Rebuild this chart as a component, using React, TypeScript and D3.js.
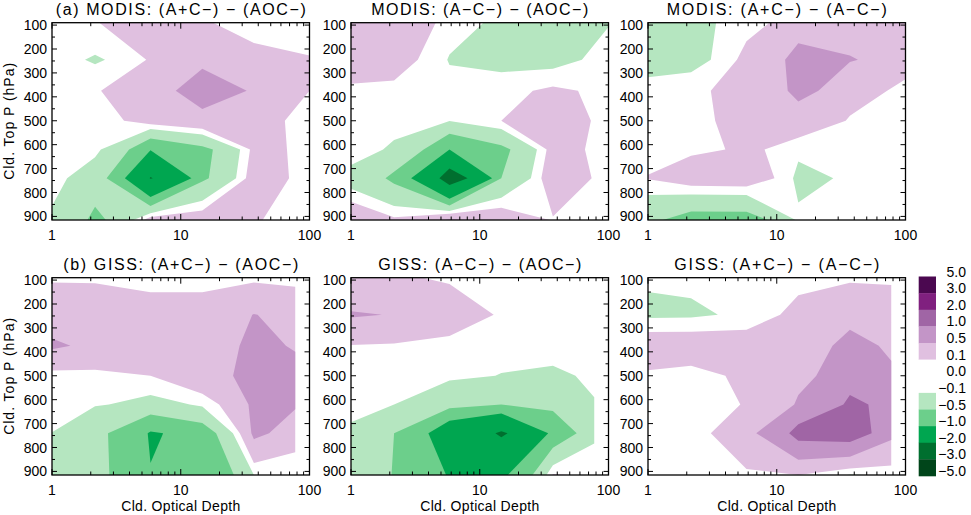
import React from 'react';
import * as d3 from 'd3';

// ---------- grid coordinates (bin centres) ----------
const tauModis = [0.62, 2.16, 5.82, 14.7, 37, 100];
const tauGiss = [0.62, 2.16, 5.82, 14.7, 37, 77.5];
const pressureRows = [90, 245, 375, 500, 620, 740, 915];

// ---------- contour levels & colours ----------
const levels = [0.1, 0.5, 1, 2, 3];
const purpleFills = ['#e0c0e0', '#c395c7', '#a065a5', '#80207f', '#4b0850'];
const greenFills = ['#b5e6c0', '#6ccf8b', '#00a650', '#006f2f', '#00451a'];
const legendLabels = ['5.0', '3.0', '2.0', '1.0', '0.5', '0.1', '0.0', '\u22120.1', '\u22120.5', '\u22121.0', '\u22122.0', '\u22123.0', '\u22125.0'];

// ---------- tick values ----------
const xMajorTicks = [1, 10, 100];
const xMinorTicks = [2, 3, 4, 5, 6, 7, 8, 9, 20, 30, 40, 50, 60, 70, 80, 90];
const yMajorTicks = [100, 200, 300, 400, 500, 600, 700, 800, 900];
const yMinorTicks = [150, 250, 350, 450, 550, 650, 750, 850];

// ---------- data: rows = pressure (top->bottom), cols = optical depth ----------
const modisApCvsAOC = [
  [-0.05, 0.09, 0.3, 0.12, -0.02, -0.05],
  [0.0, -0.13, 0.13, 0.42, 0.2, 0.12],
  [0.0, 0.08, 0.38, 0.7, 0.45, 0.1],
  [0.0, 0.0, 0.25, 0.37, 0.2, -0.03],
  [0.0, -0.04, -0.97, -0.61, 0.19, 0.0],
  [0.03, -0.26, -2.04, -0.57, 0.29, -0.08],
  [0.0, -0.61, 0.27, 0.3, 0.12, -0.08],
];
const modisAmCvsAOC = [
  [0.3, 0.25, 0.02, -0.2, -0.2, -0.12],
  [0.35, 0.2, -0.12, -0.2, -0.2, 0.05],
  [0.05, 0.05, 0.0, 0.05, 0.15, 0.0],
  [0.0, 0.0, -0.09, 0.1, 0.3, -0.05],
  [0.05, -0.15, -1.0, -0.6, 0.25, -0.08],
  [-0.1, -0.6, -2.5, -0.5, 0.37, -0.09],
  [0.5, 0.15, 0.55, 0.35, 0.075, 0.0],
];
const modisApCvsAmC = [
  [-0.3, -0.15, 0.0, 0.3, 0.35, 0.3],
  [-0.4, -0.2, 0.2, 0.66, 0.52, 0.3],
  [0.05, 0.05, 0.25, 0.6, 0.25, -0.02],
  [0.0, 0.03, 0.25, 0.32, 0.07, 0.0],
  [0.0, 0.05, 0.15, -0.05, 0.0, 0.0],
  [0.065, 0.28, 0.3, -0.17, -0.048, 0.0],
  [-0.34, -0.7, -0.7, -0.05, -0.05, 0.0],
];
const gissApCvsAOC = [
  [0.065, 0.065, -0.03, -0.03, 0.04, 0.02],
  [0.35, 0.3, 0.3, 0.3, 0.51, 0.35],
  [0.7, 0.3, 0.3, 0.3, 0.62, 0.45],
  [-0.02, 0.05, 0.1, 0.35, 0.66, 0.7],
  [0.0, -0.08, -0.2, -0.05, 0.6, 0.55],
  [-0.01, -0.4, -1.05, -0.75, 0.6, 0.25],
  [-0.25, -0.4, -0.98, -0.9, -0.1, -0.08],
];
const gissAmCvsAOC = [
  [0.12, 0.12, 0.07, 0.0, 0.0, 0.0],
  [0.58, 0.47, 0.25, 0.06, 0.0, 0.0],
  [0.1, 0.07, 0.03, 0.0, 0.0, 0.0],
  [0.0, 0.0, -0.05, -0.11, -0.15, -0.04],
  [0.0, -0.1, -0.35, -0.5, -0.4, -0.12],
  [-0.1, -0.5, -1.5, -2.1, -0.83, -0.15],
  [-0.2, -0.52, -1.05, -1.1, 0.12, 0.05],
];
const gissApCvsAmC = [
  [-0.08, -0.05, 0.0, 0.0, 0.06, 0.05],
  [-0.15, -0.14, -0.03, 0.21, 0.35, 0.3],
  [0.3, 0.3, 0.24, 0.3, 0.66, 0.4],
  [0.08, 0.0, 0.2, 0.4, 0.8, 0.6],
  [0.0, 0.0, 0.12, 0.55, 1.1, 0.82],
  [0.0, 0.0, 0.4, 1.2, 1.3, 0.61],
  [0.0, 0.0, 0.05, 0.1, -0.12, -0.05],
];

// ---------- layout ----------
const colX = [52, 351, 648];
const rowY = [22.7, 277.7];
const plotW = 257.5;
const plotH = 197.3;
const FONT = 'Liberation Sans, Arial, Helvetica, sans-serif';

const panels = [
  { title: '(a) MODIS: (A+C\u2212) \u2212 (AOC\u2212)', tl: 250, data: modisApCvsAOC, taus: tauModis, col: 0, row: 0 },
  { title: 'MODIS: (A\u2212C\u2212) \u2212 (AOC\u2212)', tl: 217, data: modisAmCvsAOC, taus: tauModis, col: 1, row: 0 },
  { title: 'MODIS: (A+C\u2212) \u2212 (A\u2212C\u2212)', tl: 220, data: modisApCvsAmC, taus: tauModis, col: 2, row: 0 },
  { title: '(b) GISS: (A+C\u2212) \u2212 (AOC\u2212)', tl: 235, data: gissApCvsAOC, taus: tauGiss, col: 0, row: 1 },
  { title: 'GISS: (A\u2212C\u2212) \u2212 (AOC\u2212)', tl: 203, data: gissAmCvsAOC, taus: tauGiss, col: 1, row: 1 },
  { title: 'GISS: (A+C\u2212) \u2212 (A\u2212C\u2212)', tl: 205, data: gissApCvsAmC, taus: tauGiss, col: 2, row: 1 },
];

function interp(arr: number[], g: number) {
  const t = Math.max(0, Math.min(arr.length - 1, g - 0.5));
  const i = Math.min(arr.length - 2, Math.floor(t));
  const f = t - i;
  return arr[i] + f * (arr[i + 1] - arr[i]);
}

function Panel({ p, idx }: { p: any; idx: number }) {
  const x0 = colX[p.col];
  const y0 = rowY[p.row];
  const xs = d3.scaleLog().domain([1, 100]).range([x0, x0 + plotW]);
  const ys = d3.scaleLinear().domain([90, 915]).range([y0, y0 + plotH]);
  const nx = p.taus.length;
  const ny = pressureRows.length;
  const flat: number[] = p.data.flat();
  const gen = d3.contours().size([nx, ny]).thresholds(levels);
  const pos = gen(flat);
  const neg = gen(flat.map((v: number) => -v));
  const proj = (pt: number[]) => [xs(interp(p.taus, pt[0])), ys(interp(pressureRows, pt[1]))];
  const toPath = (mp: any) =>
    mp.coordinates
      .map((poly: any) =>
        poly
          .map((ring: any) => 'M' + ring.map((pt: number[]) => proj(pt).map((v) => v.toFixed(2)).join(',')).join('L') + 'Z')
          .join('')
      )
      .join('');
  const clipId = `clip${idx}`;
  const bottom = y0 + plotH;
  const right = x0 + plotW;
  return (
    <g>
      <defs>
        <clipPath id={clipId}>
          <rect x={x0} y={y0} width={plotW} height={plotH} />
        </clipPath>
      </defs>
      <g clipPath={`url(#${clipId})`}>
        {pos.map((c: any, i: number) => (
          <path key={'p' + i} d={toPath(c)} fill={purpleFills[i]} fillRule="evenodd" stroke="none" />
        ))}
        {neg.map((c: any, i: number) => (
          <path key={'n' + i} d={toPath(c)} fill={greenFills[i]} fillRule="evenodd" stroke="none" />
        ))}
      </g>
      {xMajorTicks.map((t) => (
        <g key={'xM' + t}>
          <line x1={xs(t)} x2={xs(t)} y1={bottom} y2={bottom - 6} stroke="#000" strokeWidth={1} />
          <line x1={xs(t)} x2={xs(t)} y1={y0} y2={y0 + 6} stroke="#000" strokeWidth={1} />
        </g>
      ))}
      {xMinorTicks.map((t) => (
        <g key={'xm' + t}>
          <line x1={xs(t)} x2={xs(t)} y1={bottom} y2={bottom - 3.5} stroke="#000" strokeWidth={1} />
          <line x1={xs(t)} x2={xs(t)} y1={y0} y2={y0 + 3.5} stroke="#000" strokeWidth={1} />
        </g>
      ))}
      {yMajorTicks.map((t) => (
        <g key={'yM' + t}>
          <line x1={x0} x2={x0 + 5} y1={ys(t)} y2={ys(t)} stroke="#000" strokeWidth={1} />
          <line x1={right} x2={right - 5} y1={ys(t)} y2={ys(t)} stroke="#000" strokeWidth={1} />
        </g>
      ))}
      {yMinorTicks.map((t) => (
        <g key={'ym' + t}>
          <line x1={x0} x2={x0 + 3} y1={ys(t)} y2={ys(t)} stroke="#000" strokeWidth={1} />
          <line x1={right} x2={right - 3} y1={ys(t)} y2={ys(t)} stroke="#000" strokeWidth={1} />
        </g>
      ))}
      <rect x={x0} y={y0} width={plotW} height={plotH} fill="none" stroke="#000" strokeWidth={1.3} />
      {yMajorTicks.map((t) => (
        <text key={'yl' + t} x={x0 - 5} y={ys(t)} dy="0.36em" textAnchor="end" fontSize={14} fontFamily={FONT}>
          {t}
        </text>
      ))}
      {xMajorTicks.map((t) => (
        <text key={'xl' + t} x={xs(t)} y={bottom + 19.5} textAnchor="middle" fontSize={14} fontFamily={FONT}>
          {t}
        </text>
      ))}
      <text
        x={x0 + plotW / 2}
        y={y0 - 7.5}
        textAnchor="middle"
        fontSize={16}
        fontFamily={FONT}
        textLength={p.tl}
        lengthAdjust="spacing"
      >
        {p.title}
      </text>
      {p.col === 0 && (
        <text
          transform={`translate(13.5,${y0 + plotH / 2}) rotate(-90)`}
          textAnchor="middle"
          fontSize={14}
          fontFamily={FONT}
          textLength={117}
          lengthAdjust="spacing"
        >
          Cld. Top P (hPa)
        </text>
      )}
      {p.row === 1 && (
        <text
          x={x0 + plotW / 2}
          y={510.5}
          textAnchor="middle"
          fontSize={14}
          fontFamily={FONT}
          textLength={119}
          lengthAdjust="spacing"
        >
          Cld. Optical Depth
        </text>
      )}
    </g>
  );
}

function Legend() {
  const top = 276.5;
  const bot = 476;
  const slot = (bot - top) / 12;
  const fills = [
    purpleFills[4], purpleFills[3], purpleFills[2], purpleFills[1], purpleFills[0],
    '#ffffff', '#ffffff',
    greenFills[0], greenFills[1], greenFills[2], greenFills[3], greenFills[4],
  ];
  return (
    <g>
      {fills.map((f, i) => (
        <rect key={i} x={918.7} y={top + i * slot} width={17.3} height={slot + 0.3} fill={f} />
      ))}
      {legendLabels.map((l, i) => (
        <text key={l} x={966} y={top + i * slot} textAnchor="end" fontSize={14} fontFamily={FONT}>
          {l}
        </text>
      ))}
    </g>
  );
}

export default function App() {
  return (
    <svg
      width={971}
      height={515}
      viewBox="0 0 971 515"
      style={{ position: 'absolute', left: 0, top: 0, background: '#fff' }}
    >
      <rect x={0} y={0} width={971} height={515} fill="#fff" />
      {panels.map((p, i) => (
        <Panel key={i} p={p} idx={i} />
      ))}
      <Legend />
    </svg>
  );
}
